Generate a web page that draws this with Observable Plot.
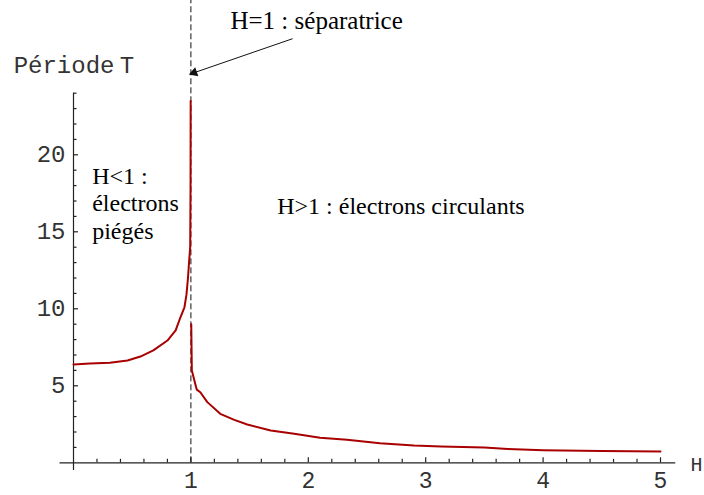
<!DOCTYPE html>
<html>
<head>
<meta charset="utf-8">
<script src="https://cdn.jsdelivr.net/npm/d3@7"></script>
<script src="https://cdn.jsdelivr.net/npm/@observablehq/plot@0.6"></script>
<style>
  html, body { margin: 0; padding: 0; background: #fff; }
</style>
</head>
<body>
<div id="chart"></div>
<script>
// ---- data ----
// trapped electrons (H < 1)
const hLeft = [0, 0.14, 0.31, 0.46, 0.57, 0.68, 0.8, 0.87, 0.911, 0.945, 0.962, 0.975, 0.985, 0.994, 0.997, 0.998];
const tLeft = [6.38, 6.45, 6.5, 6.64, 6.9, 7.3, 7.94, 8.6, 9.45, 10.1, 10.9, 12.0, 13.1, 14.0, 18.0, 23.5];
// circulating electrons (H > 1)
const hRight = [1.003, 1.008, 1.05, 1.08, 1.14, 1.25, 1.37, 1.48, 1.68, 1.88, 2.1, 2.33, 2.61, 2.9, 3.13, 3.5, 3.7, 4.0, 4.5, 5.0];
const tRight = [9.0, 6.0, 4.75, 4.58, 3.94, 3.18, 2.79, 2.49, 2.1, 1.88, 1.62, 1.49, 1.27, 1.12, 1.06, 1.0, 0.9, 0.82, 0.77, 0.73];

const xMajor = [1, 2, 3, 4, 5];
const xMinor = [0.2, 0.4, 0.6, 0.8, 1.2, 1.4, 1.6, 1.8, 2.2, 2.4, 2.6, 2.8, 3.2, 3.4, 3.6, 3.8, 4.2, 4.4, 4.6, 4.8];
const yMajor = [5, 10, 15, 20];
const yMinor = [1, 2, 3, 4, 6, 7, 8, 9, 11, 12, 13, 14, 16, 17, 18, 19, 21, 22, 23, 24];

const separatrixH = 1;
const yLabel = "Période T";
const xLabel = "H";
const noteSep = "H=1 : séparatrice";
const noteTrapped = "H<1 :\nélectrons\npiégés";
const noteCirc = "H>1 : électrons circulants";

const left = hLeft.map((h, i) => ({h, t: tLeft[i]}));
const right = hRight.map((h, i) => ({h, t: tRight[i]}));

const serif = "'Liberation Serif', 'Times New Roman', serif";
const mono = "'Liberation Mono', 'Courier New', monospace";
const red = "#a80000";
const ink = "#222";

// layout
const W = 704, H = 495;
const mL = 73, mR = 44, mT = 92.7, mB = 32.7;
const frameW = W - mL - mR, frameH = H - mT - mB;
const majorLen = 5, minorLen = 3.5;

const chart = Plot.plot({
  width: W,
  height: H,
  marginLeft: mL,
  marginRight: mR,
  marginTop: mT,
  marginBottom: mB,
  x: {domain: [0, 5], axis: null},
  y: {domain: [0, 24], axis: null},
  style: {fontFamily: mono, fontSize: "24px", background: "#fff", color: ink, overflow: "visible"},
  marks: [
    // axis lines
    Plot.ruleY([0], {x1: -0.115, x2: 5.13, stroke: ink, strokeWidth: 1.2}),
    Plot.ruleX([0], {y1: -0.5, y2: 24, stroke: ink, strokeWidth: 1.2}),
    // ticks (inward)
    Plot.tickX(xMinor, {x: d => d, insetTop: frameH - minorLen, stroke: ink, strokeWidth: 1.2}),
    Plot.tickX(xMajor, {x: d => d, insetTop: frameH - majorLen, stroke: ink, strokeWidth: 1.2}),
    Plot.tickY(yMinor, {y: d => d, insetRight: frameW - minorLen, stroke: ink, strokeWidth: 1.2}),
    Plot.tickY(yMajor, {y: d => d, insetRight: frameW - majorLen, stroke: ink, strokeWidth: 1.2}),
    // tick labels
    Plot.text(xMajor, {x: d => d, y: 0, text: d => String(d), textAnchor: "middle", lineAnchor: "top", dy: 9, fontFamily: mono, fontSize: 23, fill: "#333"}),
    Plot.text(yMajor, {x: 0, y: d => d, text: d => String(d), textAnchor: "end", lineAnchor: "middle", dx: -8, fontFamily: mono, fontSize: 24, fill: "#333"}),
    // separatrix
    Plot.ruleX([separatrixH], {y1: 0, y2: 30.2, stroke: "#111", strokeWidth: 1, strokeDasharray: "6,3"}),
    // curves
    Plot.line(left, {x: "h", y: "t", stroke: red, strokeWidth: 2}),
    Plot.line(right, {x: "h", y: "t", stroke: red, strokeWidth: 2}),
    // arrow annotation
    Plot.arrow([{x1: 1.863, y1: 27.53, x2: separatrixH, y2: 25.26}], {x1: "x1", y1: "y1", x2: "x2", y2: "y2", stroke: "#111", strokeWidth: 1, headLength: 0, bend: false}),
    Plot.dot([{x: separatrixH, y: 25.26}], {x: "x", y: "y", symbol: "triangle", r: 3.6, rotate: -109, fill: "#111", stroke: null, dx: 3.2, dy: -1.1}),
    // texts
    Plot.text([noteSep], {x: 1.337, y: 28.18, text: d => d, textAnchor: "start", lineAnchor: "bottom", fontFamily: serif, fontSize: 25, fill: "#000"}),
    Plot.text([noteCirc], {x: 1.735, y: 16.17, text: d => d, textAnchor: "start", lineAnchor: "bottom", fontFamily: serif, fontSize: 24, fill: "#000"}),
    Plot.text([noteTrapped], {x: 0.159, y: 14.55, text: d => d, textAnchor: "start", lineAnchor: "bottom", lineHeight: 1.15, fontFamily: serif, fontSize: 24, fill: "#000"}),
    Plot.text([yLabel], {x: -0.51, y: 25.3, text: d => d, textAnchor: "start", lineAnchor: "bottom", fontFamily: mono, fontSize: 24, fill: "#333"}),
    Plot.text([xLabel], {x: 5.255, y: -0.5, text: d => d, textAnchor: "start", lineAnchor: "bottom", fontFamily: mono, fontSize: 20, fill: "#333"})
  ]
});

d3.select(chart).selectAll("text").filter(function() { return this.textContent === yLabel; })
  .style("word-spacing", "-9px");

document.getElementById("chart").appendChild(chart);
</script>
</body>
</html>
